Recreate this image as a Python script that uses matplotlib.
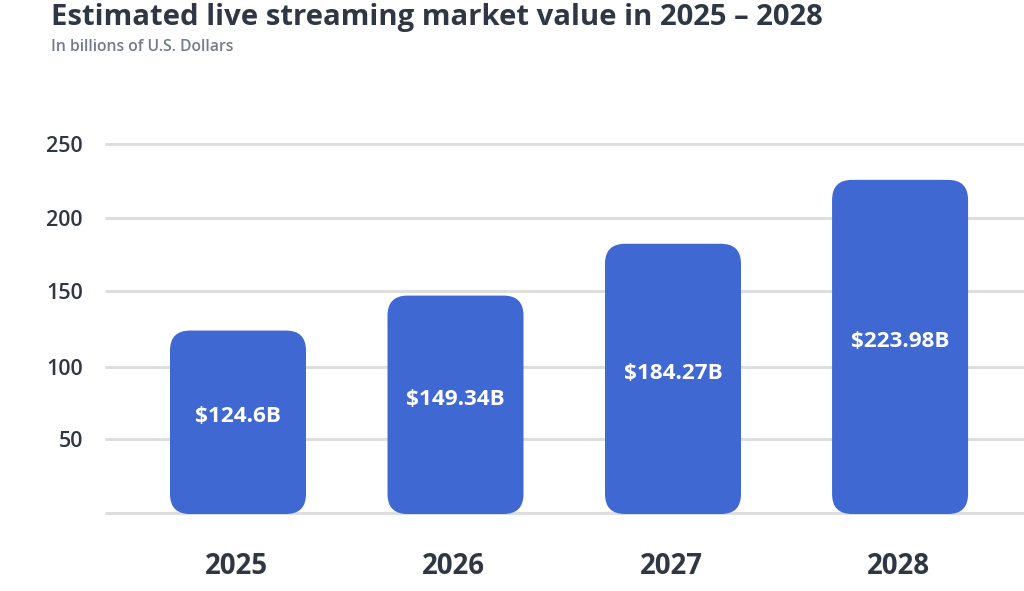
"""Estimated live streaming market value, rounded bars on a plain grid."""

import matplotlib

matplotlib.use("Agg")
import matplotlib.pyplot as plt
from matplotlib.patches import FancyBboxPatch

plt.rcParams["font.family"] = ["Open Sans", "DejaVu Sans"]

years = ["2025", "2026", "2027", "2028"]
bar_labels = ["$124.6B", "$149.34B", "$184.27B", "$223.98B"]
# heights as read against the axis, they sit a little off the printed labels
bar_heights = [123.6, 147.3, 182.4, 225.7]
tick_labels = ["50", "100", "150", "200", "250"]
# the gridlines in the picture are not quite evenly spaced
grid_ticks = [50.1, 99, 150.4, 199.6, 250]

BLUE = "#3f68d3"
DARK = "#2f3744"
GREY = "#737b8c"
GRID = "#dedede"

W, H = 1024, 591
BAR_W = 136 / 217.5  # in category units
RADIUS = 20

fig = plt.figure(figsize=(W / 100, H / 100), dpi=100)
# axes spans x 105..1024 px, y 513 (zero) .. 144 (250) px
ax = fig.add_axes([105 / W, (H - 513) / H, (W - 105) / W, (513 - 144) / H])
x_pos = [0, 1, 2, 3.044]
ax.set_xlim(-(238 - 105) / 217.5, (1024 - 238) / 217.5)
ax.set_ylim(0, 250)
for side in ax.spines.values():
    side.set_visible(False)
ax.patch.set_alpha(0)

for tick in [0] + grid_ticks:
    ax.axhline(tick, color=GRID, lw=2.2, zorder=1, clip_on=False, solid_capstyle="butt")

px_x = 1 / 217.5
px_y = 250 / (513 - 144)
for xp, height, label in zip(x_pos, bar_heights, bar_labels):
    bar = FancyBboxPatch(
        (xp - BAR_W / 2, -0.7), BAR_W, height + 0.7,
        boxstyle=f"round,pad=0,rounding_size={RADIUS * px_x}",
        mutation_aspect=px_y / px_x,
        fc=BLUE, ec="none", zorder=2, clip_on=False,
    )
    ax.add_patch(bar)
    ax.annotate(label, (xp, height / 2), xytext=(0, 3.8), textcoords="offset points",
                color="white", fontsize=16.2, fontweight="bold",
                ha="center", va="center", zorder=3)

ax.set_yticks(grid_ticks)
ax.set_yticklabels(tick_labels, fontsize=15.5, color=DARK, fontweight="semibold")
ax.tick_params(axis="y", length=0, pad=16)
ax.set_xticks([p - 2 * px_x for p in x_pos])
ax.set_xticklabels(years, fontsize=19.9, color=DARK, fontweight="bold")
ax.tick_params(axis="x", length=0, pad=28)

fig.text(51 / W, 1 - 18 / H, "Estimated live streaming market value in 2025 – 2028",
         fontsize=21.05, fontweight="bold", color=DARK, ha="left", va="center")
fig.text(51 / W, 1 - 47 / H, "In billions of U.S. Dollars",
         fontsize=11.3, fontweight="semibold", color=GREY, ha="left", va="center")

fig.savefig("out.png", dpi=100, facecolor="white")
plt.close(fig)
